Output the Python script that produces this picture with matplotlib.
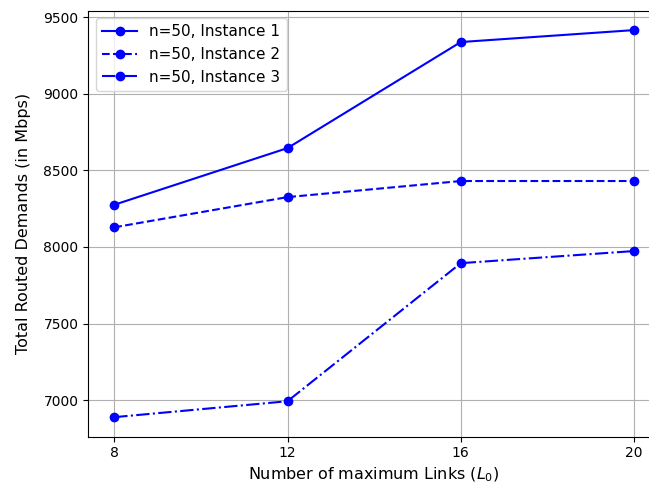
import matplotlib
matplotlib.use('Agg')
import matplotlib.pyplot as plt

links = [8, 12, 16, 20]
inst1 = [8275, 8645, 9337, 9415]
inst2 = [8128, 8325, 8430, 8430]
inst3 = [6889, 6993, 7894, 7973]

fig = plt.figure(figsize=(6.49, 4.88), dpi=100)
# right spine falls just outside the image in the reference
ax = fig.add_axes([0.136, 0.1055, 0.881, 0.8725])
ax.plot(links, inst1, 'bo-', label='n=50, Instance 1')
ax.plot(links, inst2, 'bo--', label='n=50, Instance 2')
ax.plot(links, inst3, 'bo-.', label='n=50, Instance 3')
ax.set_xticks(links)
ax.tick_params(labelsize=10)
ax.set_xlabel('Number of maximum Links ($L_0$)', fontsize=11.5)
ax.set_ylabel('Total Routed Demands (in Mbps)', fontsize=11.5, labelpad=9)
ax.grid(True)
ax.legend(loc='upper left', fontsize=11, handlelength=2.3)
fig.savefig('out.png', dpi=100)
